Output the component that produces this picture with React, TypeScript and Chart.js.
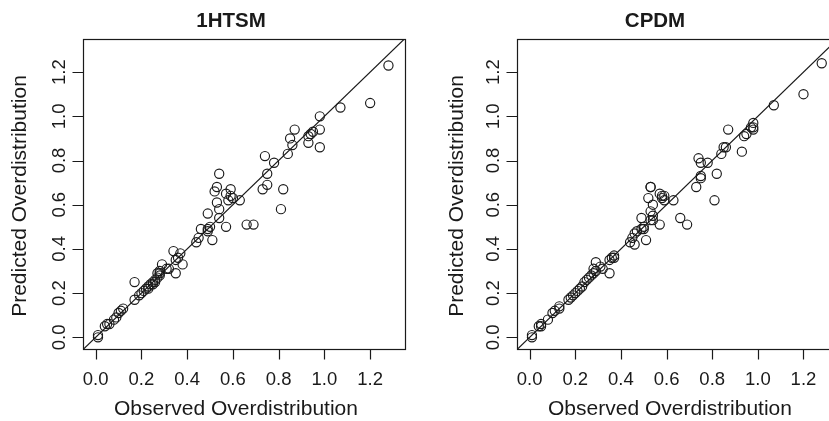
import React, { useEffect, useRef } from "react";
import { Chart, registerables } from "chart.js";
Chart.register(...registerables);

const tickValues = [0, 0.2, 0.4, 0.6, 0.8, 1.0, 1.2];
const tickLabels = ["0.0", "0.2", "0.4", "0.6", "0.8", "1.0", "1.2"];
const panelTitles = ["1HTSM", "CPDM"];
const xAxisTitle = "Observed Overdistribution";
const yAxisTitle = "Predicted Overdistribution";

const obsHTSM = [
  1.28, 1.2, 1.07, 0.98, 0.98, 0.98, 0.95, 0.94, 0.93, 0.93, 0.87, 0.85, 0.86, 0.84,
  0.74, 0.78, 0.75, 0.75, 0.73, 0.82, 0.81, 0.66, 0.69, 0.57, 0.63, 0.59, 0.57, 0.6,
  0.59, 0.58, 0.54, 0.53, 0.52, 0.53, 0.54, 0.49, 0.54, 0.46, 0.49, 0.5, 0.49, 0.51,
  0.44, 0.45, 0.34, 0.37, 0.36, 0.35, 0.38, 0.35, 0.29, 0.28, 0.31, 0.32, 0.27, 0.17,
  0.17, 0.19, 0.2, 0.21, 0.22, 0.23, 0.24, 0.25, 0.26, 0.27, 0.28, 0.25, 0.23, 0.26,
  0.28, 0.12, 0.11, 0.1, 0.09, 0.08, 0.05, 0.04, 0.06, 0.01, 0.01,
];
const predHTSM = [
  1.23, 1.06, 1.04, 1.0, 0.94, 0.86, 0.93, 0.92, 0.91, 0.88, 0.94, 0.9, 0.87, 0.83,
  0.82, 0.79, 0.74, 0.69, 0.67, 0.67, 0.58, 0.51, 0.51, 0.5, 0.62, 0.67, 0.65, 0.63,
  0.64, 0.62, 0.74, 0.68, 0.66, 0.61, 0.58, 0.56, 0.54, 0.49, 0.49, 0.5, 0.48, 0.44,
  0.43, 0.45, 0.39, 0.38, 0.36, 0.35, 0.33, 0.29, 0.33, 0.3, 0.31, 0.31, 0.29, 0.25,
  0.17, 0.19, 0.2, 0.21, 0.22, 0.23, 0.24, 0.25, 0.26, 0.27, 0.28, 0.24, 0.22, 0.25,
  0.29, 0.13, 0.12, 0.11, 0.09, 0.08, 0.06, 0.05, 0.06, 0.01, 0.0,
];
const obsCPDM = [
  1.28, 1.2, 1.07, 0.98, 0.98, 0.98, 0.97, 0.95, 0.94, 0.93, 0.87, 0.85, 0.86, 0.84,
  0.82, 0.78, 0.74, 0.75, 0.75, 0.75, 0.73, 0.81, 0.66, 0.69, 0.53, 0.53, 0.52, 0.57,
  0.59, 0.59, 0.58, 0.58, 0.63, 0.54, 0.53, 0.54, 0.53, 0.54, 0.57, 0.49, 0.49, 0.5,
  0.51, 0.5, 0.47, 0.46, 0.45, 0.44, 0.46, 0.37, 0.37, 0.36, 0.35, 0.35, 0.29, 0.31,
  0.32, 0.28, 0.29, 0.24, 0.25, 0.26, 0.27, 0.28, 0.17, 0.18, 0.19, 0.2, 0.21, 0.22,
  0.23, 0.13, 0.13, 0.11, 0.1, 0.08, 0.05, 0.05, 0.04, 0.01, 0.01,
];
const predCPDM = [
  1.24, 1.1, 1.05, 0.97, 0.95, 0.94, 0.95, 0.92, 0.91, 0.84, 0.94, 0.86, 0.86, 0.83,
  0.74, 0.79, 0.81, 0.79, 0.73, 0.72, 0.68, 0.62, 0.54, 0.51, 0.68, 0.68, 0.63, 0.65,
  0.64, 0.62, 0.63, 0.64, 0.62, 0.6, 0.57, 0.55, 0.53, 0.53, 0.51, 0.54, 0.49, 0.49,
  0.44, 0.5, 0.48, 0.47, 0.45, 0.43, 0.42, 0.37, 0.36, 0.36, 0.35, 0.29, 0.34, 0.32,
  0.31, 0.31, 0.3, 0.25, 0.26, 0.27, 0.28, 0.29, 0.17, 0.18, 0.19, 0.2, 0.21, 0.22,
  0.23, 0.14, 0.13, 0.12, 0.11, 0.08, 0.06, 0.05, 0.05, 0.0, 0.01,
];

const X_MIN = -0.0555;
const X_MAX = 1.3524;
const Y_MIN = -0.0529;
const Y_MAX = 1.3498;
const FONT = "'Liberation Sans', Arial, Helvetica, sans-serif";
const INK = "#1a1a1a";

type Layout = {
  canvasLeft: number;
  canvasWidth: number;
  pad: { left: number; right: number; top: number; bottom: number };
  titleX: number;
  xTitleX: number;
  yTitleBaseX: number;
};

const layouts: Layout[] = [
  { canvasLeft: 0, canvasWidth: 414, pad: { left: 83, right: 9, top: 39, bottom: 72 }, titleX: 231, xTitleX: 236, yTitleBaseX: 26 },
  { canvasLeft: 414, canvasWidth: 430, pad: { left: 103, right: 5, top: 39, bottom: 72 }, titleX: 241, xTitleX: 256, yTitleBaseX: 49 },
];

function Panel({ idx, obs, pred }: { idx: number; obs: number[]; pred: number[] }) {
  const ref = useRef<HTMLCanvasElement | null>(null);
  const lay = layouts[idx];
  useEffect(() => {
    if (!ref.current) return;
    const points = obs.map((x, i) => ({ x, y: pred[i] }));
    const decor = {
      id: "rdecor" + idx,
      afterDraw(chart: any) {
        const ctx = chart.ctx as CanvasRenderingContext2D;
        const { left, right, top, bottom } = chart.chartArea;
        const xs = chart.scales.x;
        const ys = chart.scales.y;
        ctx.save();
        ctx.strokeStyle = INK;
        ctx.fillStyle = INK;
        ctx.lineWidth = 1.2;
        const L = Math.round(left) + 0.5;
        const T = Math.round(top) + 0.5;
        const R = Math.round(right) + 0.5;
        const B = Math.round(bottom) + 0.5;
        ctx.strokeRect(L, T, R - L, B - T);
        ctx.beginPath();
        tickValues.forEach((v) => {
          const px = Math.round(xs.getPixelForValue(v)) + 0.5;
          ctx.moveTo(px, B);
          ctx.lineTo(px, B + 10);
        });
        tickValues.forEach((v) => {
          const py = Math.round(ys.getPixelForValue(v)) + 0.5;
          ctx.moveTo(L, py);
          ctx.lineTo(L - 11, py);
        });
        ctx.stroke();
        ctx.font = `18.5px ${FONT}`;
        ctx.textAlign = "center";
        ctx.textBaseline = "alphabetic";
        tickValues.forEach((v, i) => {
          ctx.fillText(tickLabels[i], xs.getPixelForValue(v), 385);
        });
        tickValues.forEach((v, i) => {
          ctx.save();
          ctx.translate(left - 18, ys.getPixelForValue(v));
          ctx.rotate(-Math.PI / 2);
          ctx.fillText(tickLabels[i], 0, 0);
          ctx.restore();
        });
        ctx.font = `21px ${FONT}`;
        ctx.fillText(xAxisTitle, lay.xTitleX, 415);
        ctx.save();
        ctx.translate(lay.yTitleBaseX, 196);
        ctx.rotate(-Math.PI / 2);
        ctx.fillText(yAxisTitle, 0, 0);
        ctx.restore();
        ctx.font = `bold 20.5px ${FONT}`;
        ctx.fillText(panelTitles[idx], lay.titleX, 27);
        ctx.restore();
      },
    };
    const chart = new Chart(ref.current, {
      type: "scatter",
      data: {
        datasets: [
          {
            type: "line",
            data: [
              { x: -0.2, y: -0.2 },
              { x: 1.6, y: 1.6 },
            ],
            borderColor: INK,
            borderWidth: 1.2,
            pointRadius: 0,
            fill: false,
          } as any,
          {
            data: points,
            pointStyle: "circle",
            pointRadius: 4.6,
            pointBorderWidth: 1.15,
            pointBackgroundColor: "rgba(0,0,0,0)",
            pointBorderColor: INK,
            borderColor: INK,
            backgroundColor: "rgba(0,0,0,0)",
          },
        ],
      },
      options: {
        animation: false,
        responsive: false,
        devicePixelRatio: 1,
        layout: { padding: lay.pad },
        plugins: { legend: { display: false }, tooltip: { enabled: false }, title: { display: false } },
        events: [],
        scales: {
          x: { type: "linear", min: X_MIN, max: X_MAX, display: false },
          y: { type: "linear", min: Y_MIN, max: Y_MAX, display: false },
        },
      },
      plugins: [decor],
    });
    return () => chart.destroy();
  }, [idx, obs, pred]);
  return (
    <canvas
      ref={ref}
      width={lay.canvasWidth}
      height={421}
      style={{ position: "absolute", left: lay.canvasLeft, top: 0, width: lay.canvasWidth, height: 421 }}
    />
  );
}

export default function App() {
  return (
    <div style={{ position: "fixed", left: 0, top: 0, width: 829, height: 421, overflow: "hidden", background: "#fff" }}>
      <Panel idx={0} obs={obsHTSM} pred={predHTSM} />
      <Panel idx={1} obs={obsCPDM} pred={predCPDM} />
    </div>
  );
}
